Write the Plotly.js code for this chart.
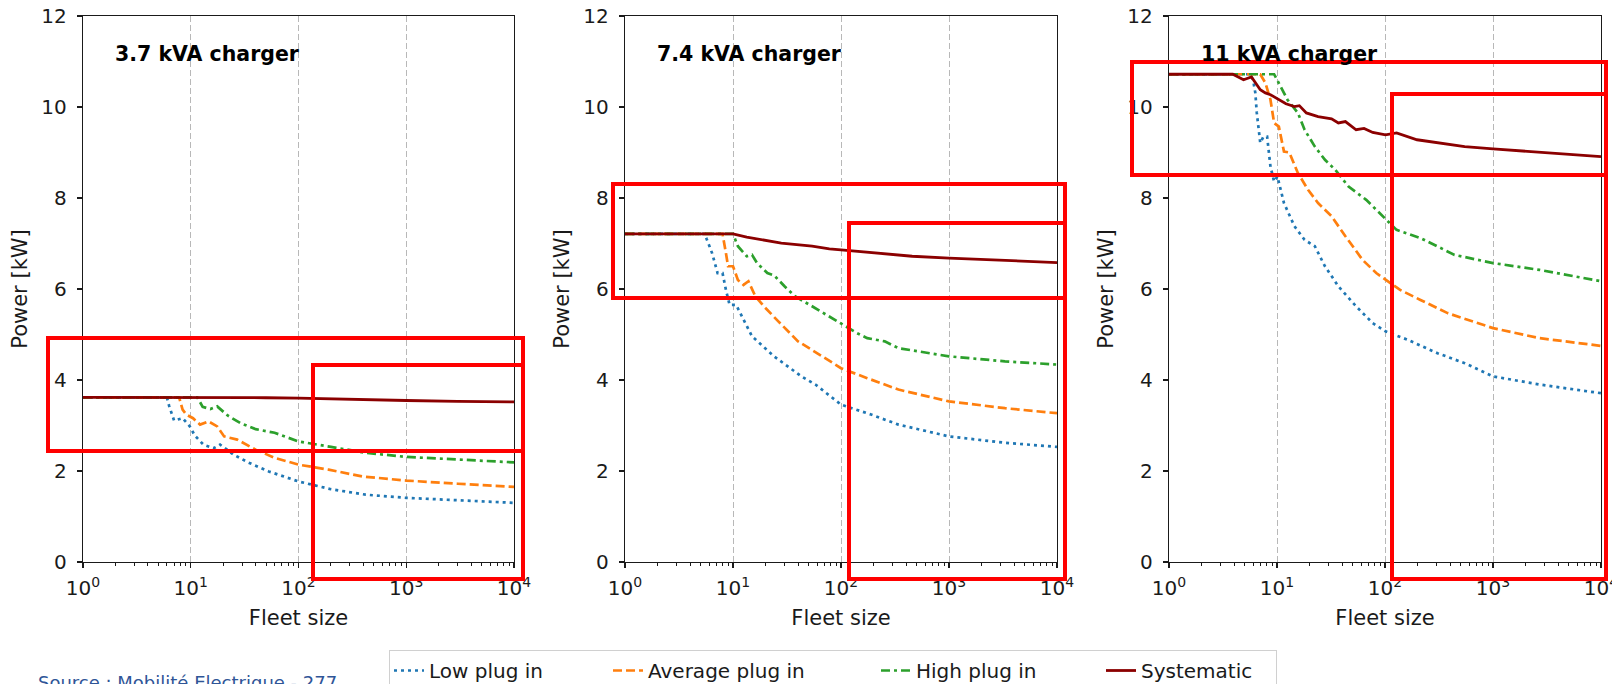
<!DOCTYPE html>
<html>
<head>
<meta charset="utf-8">
<script src="https://cdn.plot.ly/plotly-3.0.1.min.js"></script>
<style>
  html, body { margin: 0; padding: 0; background: #fff; }
  #chart { width: 1612px; height: 684px; }
</style>
</head>
<body>
<div id="chart"></div>
<script>
// ---------- tick labels / categories ----------
const panelTitles = ['3.7 kVA charger', '7.4 kVA charger', '11 kVA charger'];
const seriesNames = ['Low plug in', 'Average plug in', 'High plug in', 'Systematic'];
const xTickVals = [1, 10, 100, 1000, 10000];
const xTickText = ['10<sup>0</sup>', '10<sup>1</sup>', '10<sup>2</sup>', '10<sup>3</sup>', '10<sup>4</sup>'];
const yTickVals = [0, 2, 4, 6, 8, 10, 12];

// ---------- 3.7 kVA charger ----------
const fleetLow37  = [1, 6, 6.3, 7, 8.4, 9.8, 10.9, 13.1, 16.3, 18.7, 25, 34, 53, 100, 200, 420, 1000, 3000, 10000];
const powerLow37  = [3.62, 3.62, 3.43, 3.11, 3.16, 2.98, 2.78, 2.58, 2.50, 2.58, 2.36, 2.19, 1.99, 1.77, 1.60, 1.48, 1.41, 1.35, 1.30];
const fleetAvg37  = [1, 7.8, 8.4, 9.1, 10.5, 12.2, 14.6, 17.6, 20.4, 27, 40, 60, 100, 190, 390, 1000, 3000, 10000];
const powerAvg37  = [3.62, 3.62, 3.35, 3.24, 3.16, 3.02, 3.09, 2.98, 2.76, 2.69, 2.47, 2.29, 2.14, 2.03, 1.88, 1.79, 1.72, 1.65];
const fleetHigh37 = [1, 11.5, 12.9, 15.2, 17.6, 22, 29, 40, 60, 100, 200, 420, 1000, 3000, 10000];
const powerHigh37 = [3.62, 3.62, 3.41, 3.36, 3.42, 3.22, 3.05, 2.92, 2.84, 2.65, 2.53, 2.40, 2.31, 2.25, 2.19];
const fleetSys37  = [1, 10, 50, 100, 300, 1000, 3000, 10000];
const powerSys37  = [3.62, 3.62, 3.61, 3.60, 3.57, 3.55, 3.53, 3.52];

// ---------- 7.4 kVA charger ----------
const fleetLow74  = [1, 5.5, 5.7, 6.4, 7.2, 8.0, 8.6, 9.3, 10.7, 12.5, 15, 24, 32, 43, 58, 100, 190, 340, 1000, 3300, 10000];
const powerLow74  = [7.21, 7.21, 7.10, 6.79, 6.35, 6.35, 5.98, 5.65, 5.65, 5.33, 4.96, 4.52, 4.30, 4.08, 3.90, 3.46, 3.24, 3.02, 2.76, 2.62, 2.53];
const fleetAvg74  = [1, 8, 8.6, 9, 10, 11.1, 12.5, 13.9, 16.1, 19.3, 26, 30, 40, 67, 100, 175, 340, 1000, 3300, 10000];
const powerAvg74  = [7.21, 7.21, 6.79, 6.50, 6.50, 6.20, 6.09, 6.17, 5.84, 5.62, 5.30, 5.15, 4.85, 4.52, 4.26, 4.04, 3.79, 3.53, 3.38, 3.27];
const fleetHigh74 = [1, 10, 11.1, 13.4, 15, 16.7, 20.8, 24, 30, 37.5, 54, 78, 105, 141, 175, 254, 340, 1000, 3300, 10000];
const powerHigh74 = [7.21, 7.21, 6.94, 6.72, 6.75, 6.57, 6.35, 6.30, 6.06, 5.84, 5.62, 5.40, 5.22, 5.03, 4.92, 4.85, 4.70, 4.52, 4.41, 4.34];
const fleetSys74  = [1, 10, 13.4, 28, 54, 78, 100, 203, 456, 1000, 3300, 10000];
const powerSys74  = [7.21, 7.21, 7.14, 7.01, 6.94, 6.88, 6.86, 6.79, 6.72, 6.68, 6.63, 6.58];

// ---------- 11 kVA charger ----------
const fleetLow11  = [1, 5.6, 6.0, 6.3, 6.5, 7.0, 7.5, 8.1, 8.7, 9.4, 10.1, 11.6, 14.5, 18, 22.4, 27.8, 37, 54, 77, 101, 160, 306, 547, 1000, 2700, 10000];
const powerLow11  = [10.72, 10.72, 10.6, 10.31, 9.87, 9.21, 9.35, 9.35, 8.69, 8.36, 8.47, 7.89, 7.38, 7.08, 6.94, 6.50, 6.06, 5.62, 5.25, 5.07, 4.89, 4.59, 4.37, 4.08, 3.90, 3.71];
const fleetAvg11  = [1, 7.0, 7.8, 8.7, 9.4, 10.4, 11.6, 13, 15.6, 19.4, 24, 32, 43, 62, 83, 103, 138, 213, 380, 1000, 2700, 10000];
const powerAvg11  = [10.72, 10.72, 10.53, 10.16, 9.65, 9.57, 9.02, 9.0, 8.55, 8.18, 7.89, 7.60, 7.16, 6.64, 6.35, 6.20, 5.98, 5.76, 5.47, 5.14, 4.92, 4.75];
const fleetHigh11 = [1, 9.4, 10.8, 12.5, 15.6, 18, 22.4, 27.8, 34.6, 46, 67, 103, 128, 213, 440, 1000, 2700, 10000];
const powerHigh11 = [10.72, 10.72, 10.45, 10.16, 9.87, 9.50, 9.13, 8.84, 8.62, 8.25, 7.96, 7.52, 7.30, 7.12, 6.75, 6.57, 6.42, 6.17];
const fleetSys11  = [1, 3.9, 4.9, 5.8, 7.0, 7.8, 8.7, 10.4, 12.1, 14.5, 16.1, 18.7, 24, 32, 37, 43, 54, 64, 77, 101, 128, 198, 306, 547, 1000, 2700, 10000];
const powerSys11  = [10.72, 10.72, 10.6, 10.66, 10.38, 10.31, 10.27, 10.16, 10.07, 10.01, 10.03, 9.87, 9.79, 9.74, 9.65, 9.68, 9.50, 9.53, 9.44, 9.39, 9.43, 9.28, 9.21, 9.13, 9.08, 9.01, 8.91];

// ---------- styling ----------
const FONT = 'DejaVu Sans, Liberation Sans, sans-serif';
const INK = '#1a1a1a';
const seriesStyle = [
  { color: '#1f77b4', dash: '3px,4px', width: 2.7, legendwidth: 174 },
  { color: '#ff7f0e', dash: '9px,4px', width: 2.7, legendwidth: 223 },
  { color: '#2ca02c', dash: '9px,4px,3px,4px', width: 2.7, legendwidth: 180 },
  { color: '#8b0000', dash: 'solid', width: 2.8, legendwidth: 130 }
];

const panels = [
  { xs: [fleetLow37, fleetAvg37, fleetHigh37, fleetSys37], ys: [powerLow37, powerAvg37, powerHigh37, powerSys37] },
  { xs: [fleetLow74, fleetAvg74, fleetHigh74, fleetSys74], ys: [powerLow74, powerAvg74, powerHigh74, powerSys74] },
  { xs: [fleetLow11, fleetAvg11, fleetHigh11, fleetSys11], ys: [powerLow11, powerAvg11, powerHigh11, powerSys11] }
];

const traces = [];
panels.forEach((p, pi) => {
  const sfx = pi === 0 ? '' : String(pi + 1);
  for (let s = 0; s < 4; s++) {
    const st = seriesStyle[s];
    traces.push({
      type: 'scatter', mode: 'lines',
      x: p.xs[s], y: p.ys[s],
      xaxis: 'x' + sfx, yaxis: 'y' + sfx,
      name: seriesNames[s], legendgroup: seriesNames[s],
      showlegend: pi === 0,
      legendwidth: st.legendwidth,
      line: { color: st.color, dash: st.dash, width: st.width },
      hoverinfo: 'x+y+name'
    });
  }
});

// Layout geometry (pixels of the 1612x684 page)
const M = { l: 83, r: 11, t: 16, b: 122, autoexpand: false };
const PW = 1612 - M.l - M.r;   // 1518
const PH = 684 - M.t - M.b;    // 546
const px2x = px => (px - M.l) / PW;
const px2y = py => (684 - M.b - py) / PH;

const domains = [[px2x(83), px2x(514)], [px2x(625), px2x(1057)], [px2x(1169), px2x(1601)]];

function xAxis(dom, anchor) {
  return {
    type: 'log', range: [0, 4], domain: dom, anchor: anchor,
    tickvals: xTickVals, ticktext: xTickText,
    ticks: 'outside', ticklen: 5, tickwidth: 1.2, tickcolor: INK,
    tickfont: { family: FONT, size: 20, color: INK },
    ticklabeloverflow: 'allow', ticklabelstandoff: 3,
    showline: true, linecolor: INK, linewidth: 1.3, mirror: true,
    showgrid: true, gridcolor: '#b8b8b8', gridwidth: 1, griddash: '6px,3px',
    zeroline: false, automargin: false,
    minor: { ticks: 'outside', ticklen: 3, tickwidth: 1, tickcolor: INK, dtick: 'D1', showgrid: false },
    title: { text: 'Fleet size', font: { family: FONT, size: 21, color: INK }, standoff: 11 }
  };
}
function yAxis(anchor) {
  return {
    range: [0, 12], domain: [0, 1], anchor: anchor,
    tickvals: yTickVals,
    ticks: 'outside', ticklen: 5, tickwidth: 1.2, tickcolor: INK,
    tickfont: { family: FONT, size: 20, color: INK },
    ticklabeloverflow: 'allow', ticklabelstandoff: 6,
    showline: true, linecolor: INK, linewidth: 1.3, mirror: true,
    showgrid: false, zeroline: false, automargin: false,
    title: { text: 'Power [kW]', font: { family: FONT, size: 21, color: INK }, standoff: 8 }
  };
}

// red highlight frames drawn over the figure (pixel boxes -> paper)
const highlightBoxes = [
  [48, 338, 523, 451], [313, 365, 523, 579],
  [613, 184, 1065, 298], [849, 223, 1065, 579],
  [1132, 62, 1606, 175], [1392, 94, 1606, 579]
];
const shapes = highlightBoxes.map(b => ({
  type: 'rect', xref: 'paper', yref: 'paper', layer: 'above',
  x0: px2x(b[0]), x1: px2x(b[2]), y0: px2y(b[3]), y1: px2y(b[1]),
  line: { color: '#ff0000', width: 4 }, fillcolor: 'rgba(0,0,0,0)'
}));

const annotations = panelTitles.map((t, i) => ({
  text: t, xref: (i === 0 ? 'x' : 'x' + (i + 1)) + ' domain', yref: (i === 0 ? 'y' : 'y' + (i + 1)) + ' domain',
  x: 0.07, y: 0.93, xanchor: 'left', yanchor: 'middle', showarrow: false,
  font: { family: FONT, size: 20.5, color: '#000', weight: 'bold' }
}));
annotations.push({
  text: 'Source : Mobilité Electrique - 277', xref: 'paper', yref: 'paper',
  x: px2x(339), y: px2y(682), xanchor: 'right', yanchor: 'middle', showarrow: false,
  font: { family: FONT, size: 18, color: '#2f5597' }
});

const layout = {
  width: 1612, height: 684,
  margin: M,
  paper_bgcolor: '#ffffff', plot_bgcolor: '#ffffff',
  font: { family: FONT, color: INK },
  showlegend: true,
  legend: {
    orientation: 'h', x: px2x(389), xanchor: 'left', y: px2y(650), yanchor: 'top',
    font: { family: FONT, size: 20, color: INK },
    bordercolor: '#d0d0d0', borderwidth: 1, bgcolor: '#ffffff'
  },
  xaxis: xAxis(domains[0], 'y'), yaxis: yAxis('x'),
  xaxis2: xAxis(domains[1], 'y2'), yaxis2: yAxis('x2'),
  xaxis3: xAxis(domains[2], 'y3'), yaxis3: yAxis('x3'),
  shapes: shapes,
  annotations: annotations
};

Plotly.newPlot('chart', traces, layout, { displayModeBar: false, staticPlot: true });
</script>
</body>
</html>
